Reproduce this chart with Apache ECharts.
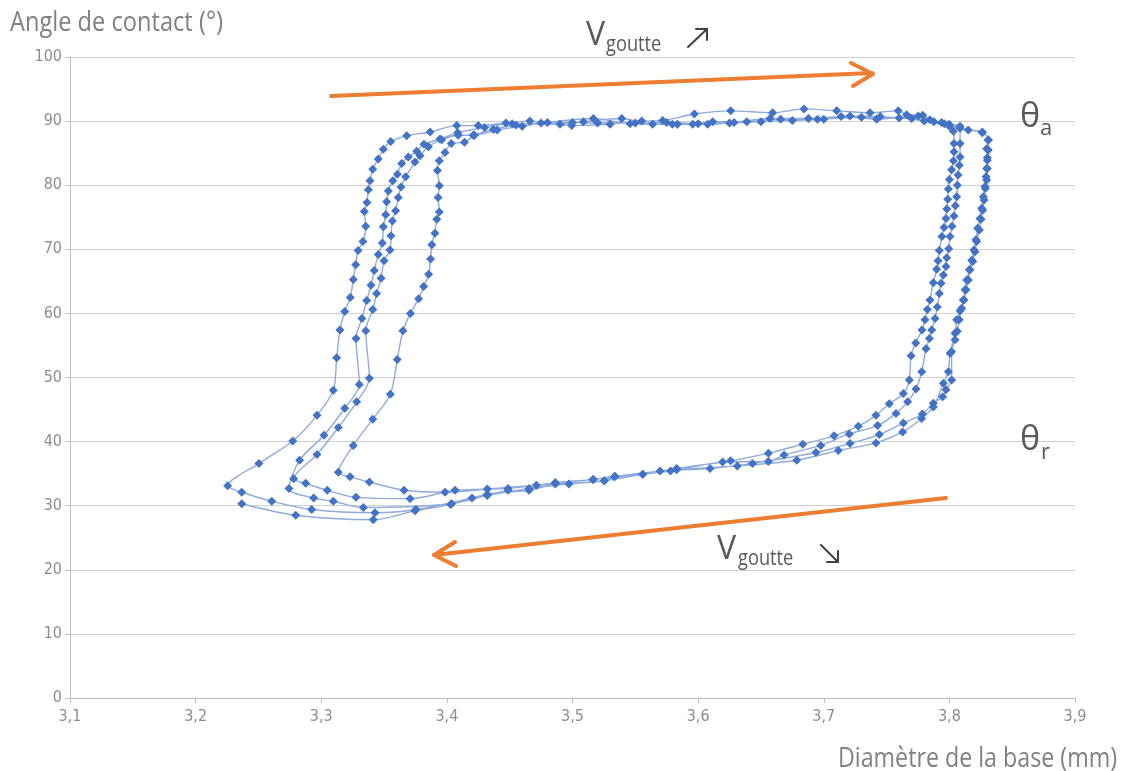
<!DOCTYPE html>
<html>
<head>
<meta charset="utf-8">
<script src="https://cdn.jsdelivr.net/npm/echarts@6/dist/echarts.min.js"></script>
<style>html,body{margin:0;padding:0;background:#fff}#chart{width:1121px;height:771px}</style>
</head>
<body>
<div id="chart"></div>
<script>
// ---------- data (x = base diameter in mm, y = contact angle in degrees) ----------
const xTickValues = [3.1, 3.2, 3.3, 3.4, 3.5, 3.6, 3.7, 3.8, 3.9];
const yTickValues = [0, 10, 20, 30, 40, 50, 60, 70, 80, 90, 100];

const initialRecede = [[3.4487,32.4],[3.4200,31.2],[3.3754,29.4],[3.3428,28.9],[3.2924,29.4],[3.2606,30.7],[3.2367,32.1]];

const leftBranch1 = [[3.2255,33.1],[3.2504,36.6],[3.2773,40.1],[3.2966,44.1],[3.3096,48.0],[3.3123,53.1],[3.3149,57.4],[3.3187,60.3],[3.3231,62.5],[3.3255,65.3],[3.3274,67.6],[3.3293,69.8],[3.3332,71.2],[3.3354,73.6],[3.3343,75.9],[3.3364,77.3],[3.3375,79.3],[3.3388,80.7],[3.3410,82.5],[3.3454,84.1],[3.3494,85.6],[3.3553,86.8],[3.3680,87.7],[3.3866,88.3],[3.4078,89.3]];
const top1 = [[3.4250,89.3],[3.4470,89.7],[3.4660,90.0],[3.4994,89.3],[3.5299,89.5],[3.5551,90.0],[3.5718,90.1],[3.5970,91.1],[3.6259,91.6],[3.6593,91.3],[3.6843,91.9],[3.7103,91.6],[3.7368,91.3],[3.7593,91.6],[3.7660,91.0],[3.7788,90.9],[3.7877,89.9],[3.7960,89.6],[3.8032,88.4]];
const right1 = [[3.8037,86.5],[3.8037,85.2],[3.8032,83.8],[3.8018,82.4],[3.8000,80.9],[3.7992,79.4],[3.7987,77.8],[3.7979,76.3],[3.7973,74.8],[3.7957,73.4],[3.7941,72.0],[3.7920,69.8],[3.7910,68.2],[3.7899,66.9],[3.7872,64.8],[3.7846,62.1],[3.7825,60.6],[3.7806,59.0],[3.7782,57.4],[3.7732,55.4],[3.7695,53.4],[3.7681,49.6]];
const bottom1 = [[3.7634,47.5],[3.7522,45.9],[3.7416,44.1],[3.7275,42.4],[3.7082,40.9],[3.6833,39.6],[3.6559,38.2],[3.6259,37.0],[3.5829,35.8],[3.5559,34.9],[3.5253,33.9],[3.4972,33.4],[3.4654,32.7],[3.4322,31.6],[3.4038,30.3],[3.3335,29.7],[3.3096,30.7],[3.2940,31.2]];

const leftBranch2 = [[3.2743,32.7],[3.2828,37.1],[3.3022,41.0],[3.3187,45.2],[3.3303,48.9],[3.3277,56.1],[3.3324,59.2],[3.3362,62.0],[3.3396,64.4],[3.3422,66.7],[3.3454,69.2],[3.3486,71.0],[3.3494,73.5],[3.3513,75.4],[3.3521,77.4],[3.3534,79.1],[3.3569,80.7],[3.3606,81.7],[3.3640,83.4],[3.3693,84.4],[3.3760,85.3],[3.3818,86.4],[3.3945,87.2],[3.4086,88.2]];
const top2 = [[3.4300,89.0],[3.4520,89.6],[3.4900,89.5],[3.5086,89.9],[3.5392,90.4],[3.5638,89.5],[3.5835,89.5],[3.6076,89.5],[3.6286,89.8],[3.6572,90.4],[3.6878,90.4],[3.7138,90.7],[3.7421,90.3],[3.7753,90.8],[3.7846,90.2],[3.7998,89.5],[3.8085,89.2]];
const right2 = [[3.8085,86.5],[3.8085,84.4],[3.8079,83.1],[3.8069,81.6],[3.8063,80.0],[3.8058,78.2],[3.8048,76.8],[3.8037,75.2],[3.8021,73.6],[3.8005,72.0],[3.7995,70.1],[3.7979,68.7],[3.7973,67.3],[3.7952,66.0],[3.7934,64.7],[3.7920,63.1],[3.7904,61.0],[3.7886,59.2],[3.7859,57.4],[3.7841,56.1],[3.7814,54.5],[3.7780,50.9]];
const bottom2 = [[3.7734,48.2],[3.7668,46.2],[3.7575,44.4],[3.7429,42.5],[3.7203,41.2],[3.6976,39.4],[3.6684,37.9],[3.6559,36.9],[3.6195,36.8],[3.5780,35.4],[3.5338,34.6],[3.5163,34.1],[3.4863,33.6],[3.4487,32.7],[3.4065,32.4],[3.3707,31.1],[3.3277,31.3],[3.3048,32.4],[3.2876,33.5]];

const leftBranch3 = [[3.2780,34.2],[3.2966,38.0],[3.3136,42.2],[3.3282,46.2],[3.3383,49.9],[3.3354,57.3],[3.3410,60.6],[3.3441,63.1],[3.3476,65.5],[3.3500,68.2],[3.3547,69.9],[3.3555,72.1],[3.3566,74.4],[3.3592,76.0],[3.3613,78.1],[3.3635,79.7],[3.3672,81.3],[3.3746,83.6],[3.3786,84.6],[3.3853,86.0],[3.3959,87.1],[3.4090,87.8]];
const top3 = [[3.4210,87.8],[3.4400,88.6],[3.4600,89.2],[3.4800,89.8],[3.5166,90.4],[3.5458,89.6],[3.5795,89.5],[3.5957,89.5],[3.6116,89.9],[3.6387,89.9],[3.6657,90.3],[3.6950,90.3],[3.7209,90.8],[3.7450,90.7],[3.7700,90.4],[3.7938,89.8],[3.8085,88.9],[3.8262,88.2],[3.8310,87.1]];
const right3 = [[3.8297,85.7],[3.8302,84.3],[3.8302,82.6],[3.8297,80.8],[3.8286,79.5],[3.8276,77.7],[3.8265,76.1],[3.8252,74.7],[3.8239,73.0],[3.8217,71.2],[3.8204,69.6],[3.8186,68.1],[3.8164,66.8],[3.8151,65.2],[3.8133,63.7],[3.8117,62.1],[3.8098,60.8],[3.8079,59.0],[3.8063,57.2],[3.8045,55.9],[3.8018,54.0],[3.8018,49.6]];
const bottom3 = [[3.7973,48.1],[3.7947,47.0],[3.7872,46.0],[3.7785,44.3],[3.7634,42.9],[3.7442,41.1],[3.7209,39.7],[3.6938,38.3],[3.6433,36.6],[3.6095,35.8],[3.5697,35.4],[3.5333,34.5],[3.5253,33.9],[3.4712,33.2],[3.4322,32.6],[3.3985,32.1],[3.3659,32.4],[3.3383,33.7],[3.3229,34.5]];

const leftBranch4 = [[3.3136,35.2],[3.3255,39.4],[3.3410,43.5],[3.3550,47.4],[3.3605,52.8],[3.3650,57.3],[3.3710,60.0],[3.3775,62.3],[3.3815,64.2],[3.3855,66.1],[3.3870,68.5],[3.3880,70.7],[3.3905,72.5],[3.3920,74.7],[3.3940,75.8],[3.3930,78.1],[3.3940,79.9],[3.3925,82.3],[3.3940,83.8],[3.3985,85.1],[3.4035,86.5],[3.4140,86.7],[3.4220,87.8]];
const top4 = [[3.4370,88.7],[3.4550,89.4],[3.4750,89.7],[3.5000,89.8],[3.5200,89.7],[3.5500,89.7],[3.5750,89.8],[3.6000,89.6],[3.6250,89.7],[3.6500,89.9],[3.6750,90.1],[3.7000,90.3],[3.7300,90.6],[3.7600,90.5],[3.7800,90.0],[3.8000,89.2],[3.8150,88.6],[3.8262,88.3]];
const right4 = [[3.8310,87.0],[3.8310,85.5],[3.8302,83.9],[3.8297,82.6],[3.8292,81.3],[3.8284,79.8],[3.8270,78.2],[3.8257,76.4],[3.8244,74.8],[3.8225,73.3],[3.8212,71.5],[3.8196,69.9],[3.8178,68.3],[3.8159,66.8],[3.8138,65.2],[3.8125,63.7],[3.8111,62.1],[3.8085,60.4],[3.8058,59.0],[3.8045,56.9],[3.8005,53.8],[3.7992,50.9],[3.7952,49.1]];
const bottom4 = [[3.7872,45.4],[3.7779,43.6],[3.7628,41.5],[3.7416,39.8],[3.7116,38.6],[3.6785,37.1],[3.6312,36.2],[3.5829,35.6],[3.5559,34.9],[3.5166,34.1],[3.4863,33.4],[3.4654,32.4],[3.4322,31.8],[3.4030,30.2],[3.3746,29.2],[3.3414,27.8],[3.2797,28.5],[3.2367,30.3]];

const xTitle = 'Diamètre de la base (mm)';
const yTitle = 'Angle de contact (°)';

// ---------- build ----------
const segments = [initialRecede,
  leftBranch1, top1, right1, bottom1,
  leftBranch2, top2, right2, bottom2,
  leftBranch3, top3, right3, bottom3,
  leftBranch4, top4, right4, bottom4];
const loopData = [].concat(...segments);

const GRAY_TXT = '#595959';
const AX_TXT = '#8c8c8c';
const ORANGE = '#ED7D31';
const HUM = "'Open Sans', 'Noto Sans', sans-serif";
const NARROW = "'Liberation Sans Narrow', 'DejaVu Sans Condensed', 'Liberation Sans', sans-serif";

const chart = echarts.init(document.getElementById('chart'), null, {renderer: 'canvas'});

function txt(text, x, y, size, color, sx) {
  return {type: 'text', x: x, y: y, scaleX: sx || 1, z: 50,
    style: {text: text, fontSize: size, fontFamily: HUM, fill: color, verticalAlign: 'top'}};
}
function pl(points, color, w) {
  return {type: 'polyline', z: 40, shape: {points: points},
    style: {stroke: color, lineWidth: w, fill: null, lineCap: 'round', lineJoin: 'round'}};
}

chart.setOption({
  animation: false,
  backgroundColor: '#fff',
  grid: {left: 70, right: 46, top: 57, bottom: 73, containLabel: false},
  xAxis: {
    type: 'value', min: 3.1, max: 3.9, interval: 0.1,
    axisLine: {show: true, lineStyle: {color: '#bfbfbf', width: 1}},
    axisTick: {show: true, length: 5, lineStyle: {color: '#bfbfbf'}},
    splitLine: {show: false},
    axisLabel: {color: AX_TXT, fontSize: 16, fontFamily: NARROW, margin: 11,
      formatter: v => v.toFixed(1).replace('.', ',')}
  },
  yAxis: {
    type: 'value', min: 0, max: 100, interval: 10,
    axisLine: {show: true, lineStyle: {color: '#bfbfbf', width: 1}},
    axisTick: {show: true, length: 5, lineStyle: {color: '#bfbfbf'}},
    splitLine: {show: true, lineStyle: {color: '#d0d0d0', width: 1}},
    axisLabel: {color: AX_TXT, fontSize: 16, fontFamily: NARROW, margin: 8,
      formatter: v => String(v)}
  },
  series: [{
    type: 'line',
    data: loopData,
    smooth: 0.3,
    symbol: 'diamond',
    symbolSize: 9,
    showAllSymbol: true,
    itemStyle: {color: '#4472C4'},
    lineStyle: {color: '#8FAADC', width: 1.4},
    z: 10
  }],
  graphic: [
    txt(yTitle, 10, 10, 27, '#808080', 0.875),
    txt(xTitle, 838, 746, 27, '#808080', 0.86),
    // top annotation
    pl([[331, 96], [872, 73]], ORANGE, 4),
    pl([[851, 63], [873, 74], [853, 86]], ORANGE, 4),
    txt('V', 586, 20, 32, GRAY_TXT, 1),
    txt('goutte', 606, 34, 22, GRAY_TXT, 0.83),
    pl([[688, 47], [707, 29]], '#404040', 2),
    pl([[696, 29], [707, 29], [707, 40]], '#404040', 2),
    // bottom annotation
    pl([[946, 498], [434, 555]], ORANGE, 4),
    pl([[455, 542], [434, 555], [456, 566]], ORANGE, 4),
    txt('V', 717, 534, 32, GRAY_TXT, 1),
    txt('goutte', 738, 548, 22, GRAY_TXT, 0.83),
    pl([[821, 545], [838, 562]], '#404040', 2),
    pl([[827, 562], [838, 562], [838, 551]], '#404040', 2),
    // theta labels
    txt('θ', 1020, 100, 34, GRAY_TXT, 1),
    txt('a', 1040, 118, 22, GRAY_TXT, 1),
    txt('θ', 1020, 423, 34, GRAY_TXT, 1),
    txt('r', 1041, 442, 22, GRAY_TXT, 1)
  ]
});
</script>
</body>
</html>
